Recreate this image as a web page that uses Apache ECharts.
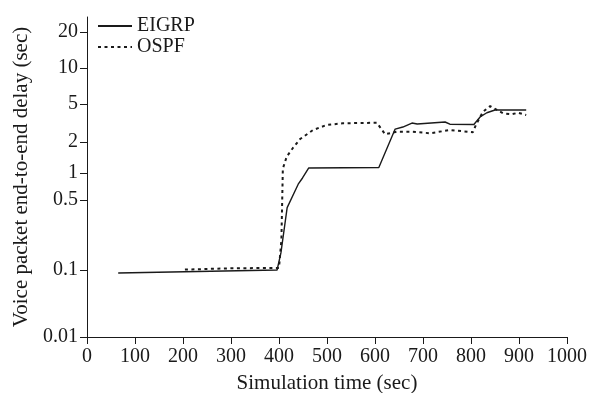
<!DOCTYPE html>
<html>
<head>
<meta charset="utf-8">
<script src="https://cdn.jsdelivr.net/npm/echarts@6/dist/echarts.min.js"></script>
<style>
  html, body { margin: 0; padding: 0; background: #fff; }
  #chart { width: 592px; height: 393px; }
</style>
</head>
<body>
<div id="chart"></div>
<script>
// simulation time (sec) and voice packet end-to-end delay (sec)
const eigrpTime  = [65, 396, 404, 417, 440, 449, 462, 608, 642, 658, 677, 688, 746, 756, 806, 819, 833, 850, 915];
const eigrpDelay = [0.09, 0.1, 0.148, 0.42, 0.75, 0.88, 1.12, 1.13, 2.73, 2.87, 3.16, 3.09, 3.24, 3.07, 3.05, 3.66, 4.05, 4.33, 4.33];

const ospfTime  = [204, 300, 400, 405, 408, 416, 429, 444, 471, 499, 533, 604, 621, 645, 679, 715, 756, 804, 810, 825, 840, 854, 867, 885, 898, 915];
const ospfDelay = [0.101, 0.104, 0.105, 0.2, 1.1, 1.44, 1.75, 2.15, 2.67, 3.01, 3.14, 3.18, 2.41, 2.56, 2.56, 2.47, 2.67, 2.53, 3.01, 4.15, 4.76, 4.33, 3.99, 3.9, 4.05, 3.84];

const yTickVals   = [0.01, 0.1, 0.5, 1, 2, 5, 10, 20];
const yTickLabels = ['0.01', '0.1', '0.5', '1', '2', '5', '10', '20'];
// the printed y axis is not an even log scale, so keep where each tick sits (px above the x axis)
const yTickPos = [0, 67, 137, 164, 195, 233, 269, 305];

// log-linear between neighbouring ticks
function toAxis(v) {
    const lv = Math.log10(v);
    for (let i = 0; i < yTickVals.length - 1; i++) {
        const a = Math.log10(yTickVals[i]), b = Math.log10(yTickVals[i + 1]);
        if (lv <= b || i === yTickVals.length - 2) {
            return yTickPos[i] + (lv - a) / (b - a) * (yTickPos[i + 1] - yTickPos[i]);
        }
    }
}

const chart = echarts.init(document.getElementById('chart'));
const font = 'Liberation Serif';
const ink = '#1a1a1a';

chart.setOption({
    animation: false,
    textStyle: { fontFamily: font, color: ink },
    grid: { left: 87, right: 25, top: 17, bottom: 56, outerBoundsMode: 'none' },
    legend: {
        orient: 'vertical',
        left: 97,
        top: 16,
        padding: 0,
        itemWidth: 34,
        itemHeight: 20,
        itemGap: 1,
        itemStyle: { opacity: 0 },
        textStyle: { fontFamily: font, fontSize: 20, color: ink },
        data: ['EIGRP', 'OSPF']
    },
    xAxis: {
        type: 'value',
        min: 0,
        max: 1000,
        interval: 100,
        name: 'Simulation time (sec)',
        nameLocation: 'middle',
        nameGap: 36,
        nameTextStyle: { fontFamily: font, fontSize: 21, color: ink },
        axisLine: { lineStyle: { color: ink, width: 1 } },
        axisTick: { length: 7, lineStyle: { color: ink } },
        axisLabel: { fontFamily: font, fontSize: 20, color: ink, margin: 10, formatter: (v) => String(v) },
        splitLine: { show: false }
    },
    yAxis: {
        type: 'value',
        min: 0,
        max: 320,
        name: 'Voice packet end-to-end delay (sec)',
        nameLocation: 'middle',
        nameGap: 55,
        nameTextStyle: { fontFamily: font, fontSize: 21, color: ink },
        axisLine: { show: true, lineStyle: { color: ink, width: 1 } },
        axisTick: { show: true, length: 7, customValues: yTickPos, lineStyle: { color: ink } },
        axisLabel: {
            fontFamily: font, fontSize: 20, color: ink, margin: 9,
            customValues: yTickPos,
            formatter: (val) => yTickLabels[yTickPos.indexOf(val)]
        },
        splitLine: { show: false }
    },
    series: [
        {
            name: 'EIGRP',
            type: 'line',
            symbol: 'none',
            lineStyle: { color: ink, width: 1.4 },
            itemStyle: { color: ink },
            data: eigrpTime.map((t, i) => [t, toAxis(eigrpDelay[i])])
        },
        {
            name: 'OSPF',
            type: 'line',
            symbol: 'none',
            lineStyle: { color: ink, width: 2, type: [3, 3.5] },
            itemStyle: { color: ink },
            data: ospfTime.map((t, i) => [t, toAxis(ospfDelay[i])])
        }
    ]
});
</script>
</body>
</html>
